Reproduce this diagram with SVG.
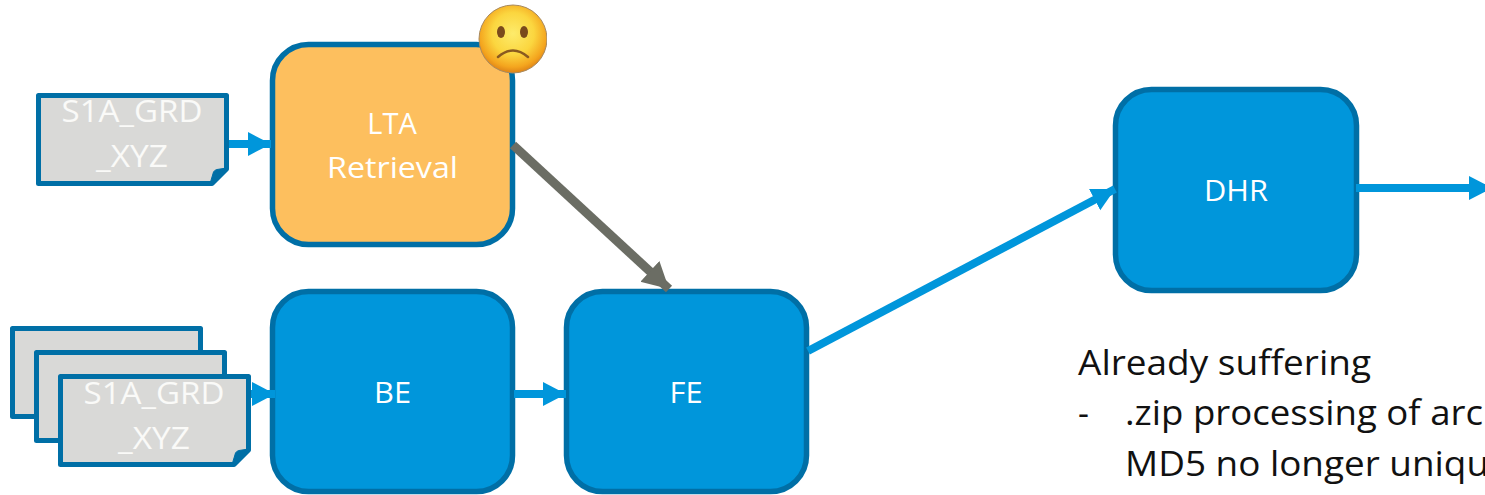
<svg xmlns="http://www.w3.org/2000/svg" width="1485" height="495" viewBox="0 0 1485 495">
<style>
.box{stroke:#006fa6;stroke-width:5.500}
.blue{fill:#0096db}
.orange{fill:#fdbf5e}
.doc{fill:#d9d9d7;stroke:#006fa6;stroke-width:5;stroke-linejoin:round}
.fold{fill:#006fa6;stroke:#006fa6;stroke-width:1;stroke-linejoin:round}
.t{font-family:"Open Sans","Lato","Liberation Sans",sans-serif;fill:#fff;text-anchor:middle;font-size:29px}
.dt{font-size:31px;fill:#fafaf8}
.n{font-family:"Open Sans","Lato","Liberation Sans",sans-serif;fill:#111;font-size:34px}
.bl{stroke:#0096db;stroke-width:8;fill:none}
.gr{stroke:#6b6d64;stroke-width:9;fill:none}
</style>
<defs>
<marker id="ab" markerUnits="userSpaceOnUse" markerWidth="24" markerHeight="26" refX="23" refY="13" orient="auto"><path d="M0 1L23 13L0 25z" fill="#0096db"/></marker>
<marker id="ag" markerUnits="userSpaceOnUse" markerWidth="28" markerHeight="30" refX="26" refY="15" orient="auto"><path d="M0 1L26 15L0 29z" fill="#6b6d64"/></marker>
<radialGradient id="face" cx="50%" cy="42%" r="56%"><stop offset="0" stop-color="#fdeb6b"/><stop offset=".55" stop-color="#fbd63f"/><stop offset=".88" stop-color="#f4a51e"/><stop offset="1" stop-color="#e38a18"/></radialGradient>
<clipPath id="fc"><rect x="470" y="0" width="77" height="80"/></clipPath>
</defs>
<g id="doc-single">
<path class="doc" d="M38.500 95.500H226.500V169L212 183.500H38.500z"/>
<path class="fold" d="M226.500 168L212 183.500L210.500 182L213.500 172Q214.500 170 217 169.500z"/>
<text class="t dt" x="132" y="122" textLength="141" lengthAdjust="spacingAndGlyphs">S1A_GRD</text>
<text class="t dt" x="132" y="167" textLength="72" lengthAdjust="spacingAndGlyphs">_XYZ</text>
</g>
<g id="doc-stack">
<rect class="doc" x="12.500" y="328.500" width="188" height="88"/>
<rect class="doc" x="36.500" y="352.500" width="188" height="88"/>
<path class="doc" d="M60.500 376.500H248.500V450L234 464.500H60.500z"/>
<path class="fold" d="M248.500 449L234 464.500L232.500 463L235.500 453Q236.500 451 239 450.500z"/>
<text class="t dt" x="154" y="404" textLength="141" lengthAdjust="spacingAndGlyphs">S1A_GRD</text>
<text class="t dt" x="154" y="449" textLength="72" lengthAdjust="spacingAndGlyphs">_XYZ</text>
</g>
<g id="lta">
<rect class="box orange" x="272.500" y="44.500" width="240" height="200" rx="36"/>
<text class="t" x="392" y="134">LTA</text>
<text class="t" x="392.500" y="178" textLength="131" lengthAdjust="spacingAndGlyphs">Retrieval</text>
</g>
<g id="be">
<rect class="box blue" x="272.500" y="291.500" width="240" height="200" rx="36"/>
<text class="t" x="392.500" y="403" textLength="37" lengthAdjust="spacingAndGlyphs">BE</text>
</g>
<g id="fe">
<rect class="box blue" x="566.500" y="291.500" width="240" height="200" rx="36"/>
<text class="t" x="686" y="403" textLength="33" lengthAdjust="spacingAndGlyphs">FE</text>
</g>
<g id="dhr">
<rect class="box blue" x="1115.500" y="89.500" width="241" height="201" rx="36"/>
<text class="t" x="1236" y="201" textLength="64" lengthAdjust="spacingAndGlyphs">DHR</text>
</g>
<g id="connectors">
<line class="bl" x1="229" y1="144" x2="271" y2="144" marker-end="url(#ab)"/>
<line class="bl" x1="251" y1="394" x2="275" y2="394" marker-end="url(#ab)"/>
<line class="bl" x1="514" y1="394" x2="566" y2="394" marker-end="url(#ab)"/>
<line class="bl" x1="808" y1="351" x2="1115" y2="189" marker-end="url(#ab)"/>
<line class="bl" x1="1356" y1="188" x2="1492" y2="188" marker-end="url(#ab)"/>
<line class="gr" x1="513" y1="145" x2="669" y2="289" marker-end="url(#ag)"/>
</g>
<g id="smiley" clip-path="url(#fc)">
<circle cx="513" cy="39" r="34" fill="url(#face)" stroke="#a88a60" stroke-width="1"/>
<ellipse cx="501" cy="32" rx="4" ry="6" fill="#7a4a1c"/>
<ellipse cx="524" cy="32" rx="4" ry="6" fill="#7a4a1c"/>
<path d="M498 57Q513 44 528 57" fill="none" stroke="#8a5a20" stroke-width="2.500" stroke-linecap="round"/>
</g>
<g id="note">
<text class="n" x="1078" y="375" textLength="293" lengthAdjust="spacingAndGlyphs">Already suffering</text>
<text class="n" x="1078" y="425">-</text>
<text class="n" x="1125" y="425" textLength="358" lengthAdjust="spacingAndGlyphs">.zip processing of arc</text>
<text class="n" x="1125" y="476" textLength="364" lengthAdjust="spacingAndGlyphs">MD5 no longer uniqu</text>
</g>
</svg>
